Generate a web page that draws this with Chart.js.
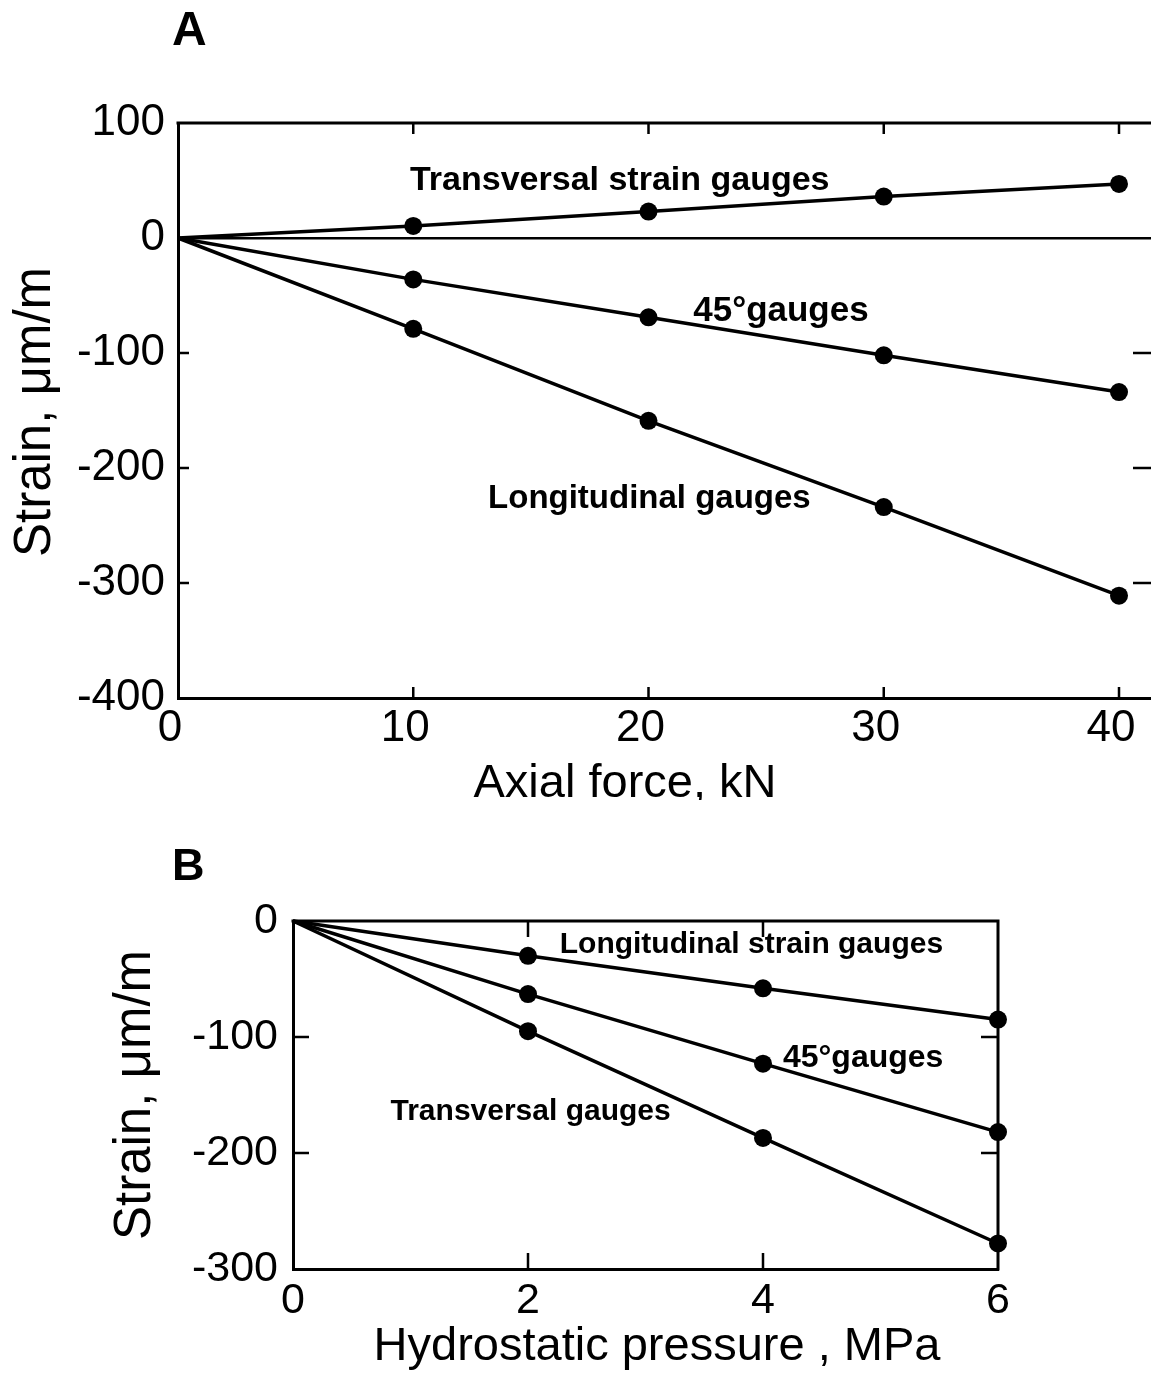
<!DOCTYPE html>
<html>
<head>
<meta charset="utf-8">
<script src="https://cdn.jsdelivr.net/npm/chart.js@4.4.1/dist/chart.umd.min.js"></script>
<style>
  html, body { margin: 0; padding: 0; background: #fff; overflow: hidden; }
  #wrap { position: relative; width: 1151px; height: 1375px; }
  canvas { position: absolute; left: 0; }
</style>
</head>
<body>
<div id="wrap">
  <canvas id="chartA" width="1151" height="800" style="top:0;width:1151px;height:800px"></canvas>
  <canvas id="chartB" width="1151" height="575" style="top:800px;width:1151px;height:575px"></canvas>
</div>
<script>
// ---------- Data: panel A (axial force) ----------
const forceKN = [0, 10, 20, 30, 40];
const transversalA = [0, 10.5, 23, 36, 47];
const deg45A = [0, -36, -69, -102, -134];
const longitudinalA = [0, -79, -159, -234, -311];
const xTicksA = [0, 10, 20, 30, 40];
const yTicksA = [100, 0, -100, -200, -300, -400];

// ---------- Data: panel B (hydrostatic pressure) ----------
const pressureMPa = [0, 2, 4, 6];
const longitudinalB = [0, -30, -58, -85];
const deg45B = [0, -63, -123, -182];
const transversalB = [0, -95, -187, -278];
const xTicksB = [0, 2, 4, 6];
const yTicksB = [0, -100, -200, -300];

const FONT = '"Liberation Sans", Arial, sans-serif';

function pts(xs, ys) { return xs.map((x, i) => ({ x: x, y: ys[i] })); }

function lineDs(label, data) {
  return {
    label: label,
    data: data,
    borderColor: '#000',
    backgroundColor: '#000',
    borderWidth: 3.5,
    pointRadius: c => (c.raw && c.raw.x === 0 ? 0 : 9),
    pointHoverRadius: c => (c.raw && c.raw.x === 0 ? 0 : 9),
    pointBackgroundColor: '#000',
    pointBorderColor: '#000',
    pointBorderWidth: 0,
    tension: 0,
    clip: false
  };
}

// plugin: frame, inward tick marks, panel letter, in-plot labels, axis titles
const decor = {
  id: 'decor',
  afterDraw(chart, args, o) {
    const ctx = chart.ctx;
    const a = chart.chartArea;
    const xs = chart.scales.x, ys = chart.scales.y;
    ctx.save();
    ctx.strokeStyle = '#000';
    ctx.fillStyle = '#000';
    // frame (top, and right if requested)
    ctx.lineWidth = 3;
    ctx.beginPath();
    ctx.moveTo(a.left - 1.5, a.top);
    ctx.lineTo(a.right + (o.rightFrame ? 1.5 : 0), a.top);
    if (o.rightFrame) { ctx.moveTo(a.right, a.top); ctx.lineTo(a.right, a.bottom + 1.5); }
    ctx.stroke();
    // inward ticks
    ctx.lineWidth = 2.5;
    const xt = o.xTicks.filter(v => v > xs.min && v < xs.max);
    const yt = o.yTicks.filter(v => v > ys.min && v < ys.max && v !== 0);
    ctx.beginPath();
    xt.forEach(v => {
      const px = xs.getPixelForValue(v);
      ctx.moveTo(px, a.bottom); ctx.lineTo(px, a.bottom - o.tickLen);
      ctx.moveTo(px, a.top); ctx.lineTo(px, a.top + o.tickLen);
    });
    yt.forEach(v => {
      const py = ys.getPixelForValue(v);
      ctx.moveTo(a.left, py); ctx.lineTo(a.left + o.tickLen, py);
      ctx.moveTo(a.right, py); ctx.lineTo(a.right - o.rightTickLen, py);
    });
    ctx.stroke();
    // panel letter
    ctx.font = 'bold ' + o.letter.size + 'px ' + FONT;
    ctx.textAlign = 'left';
    ctx.textBaseline = 'alphabetic';
    ctx.fillText(o.letter.text, o.letter.x, o.letter.y);
    // in-plot labels (positioned in data units)
    o.labels.forEach(l => {
      ctx.font = 'bold ' + l.size + 'px ' + FONT;
      ctx.textAlign = 'left';
      ctx.textBaseline = 'middle';
      ctx.fillText(l.text, xs.getPixelForValue(l.x), ys.getPixelForValue(l.y));
    });
    // axis titles
    ctx.font = o.xTitle.size + 'px ' + FONT;
    ctx.textAlign = 'center';
    ctx.textBaseline = 'alphabetic';
    ctx.fillText(o.xTitle.text, o.xTitle.x, o.xTitle.y);
    ctx.save();
    ctx.translate(o.yTitle.x, o.yTitle.y);
    ctx.rotate(-Math.PI / 2);
    ctx.font = o.yTitle.size + 'px ' + FONT;
    ctx.textAlign = 'center';
    ctx.textBaseline = 'alphabetic';
    ctx.fillText(o.yTitle.text, 0, 0);
    ctx.restore();
    ctx.restore();
  }
};

function makeChart(id, cfg) {
  return new Chart(document.getElementById(id), {
    type: 'line',
    data: { datasets: cfg.datasets },
    plugins: [decor],
    options: {
      responsive: false,
      animation: false,
      devicePixelRatio: 1,
      layout: { padding: cfg.padding, autoPadding: false },
      plugins: { legend: { display: false }, tooltip: { enabled: false }, decor: cfg.decor },
      scales: {
        x: {
          type: 'linear',
          min: cfg.xMin, max: cfg.xMax,
          afterFit: s => { s.height = cfg.xAxisH; s.paddingLeft = 0; s.paddingRight = 0; },
          afterBuildTicks: s => { s.ticks = cfg.xTicks.map(v => ({ value: v })); },
          ticks: {
            font: { family: FONT, size: cfg.tickFont },
            color: '#000',
            padding: cfg.xPad,
            labelOffset: cfg.xLabelOffset,
            maxRotation: 0,
            autoSkip: false
          },
          grid: { display: false, drawTicks: false },
          border: { display: true, color: '#000', width: 3 }
        },
        y: {
          type: 'linear',
          min: cfg.yMin, max: cfg.yMax,
          afterFit: s => { s.width = cfg.yAxisW; s.paddingTop = 0; s.paddingBottom = 0; },
          afterBuildTicks: s => { s.ticks = cfg.yTicks.map(v => ({ value: v })); },
          ticks: {
            font: { family: FONT, size: cfg.tickFont },
            color: '#000',
            padding: cfg.yPad,
            autoSkip: false
          },
          grid: {
            display: cfg.zeroLine,
            drawTicks: false,
            color: c => (c.tick && c.tick.value === 0 ? '#000' : 'rgba(0,0,0,0)'),
            lineWidth: 2.5
          },
          border: { display: true, color: '#000', width: 3 }
        }
      }
    }
  });
}

// Panel A
makeChart('chartA', {
  datasets: [
    lineDs('Transversal strain gauges', pts(forceKN, transversalA)),
    lineDs('45° gauges', pts(forceKN, deg45A)),
    lineDs('Longitudinal gauges', pts(forceKN, longitudinalA))
  ],
  padding: { top: 123, right: 0, left: 0, bottom: 0 },
  xMin: 0, xMax: 41.36, yMin: -400, yMax: 100,
  xTicks: xTicksA, yTicks: yTicksA,
  xAxisH: 102, yAxisW: 178,
  tickFont: 44, xPad: 4, yPad: 13, xLabelOffset: -8,
  zeroLine: true,
  decor: {
    rightFrame: false, tickLen: 11, rightTickLen: 18,
    xTicks: xTicksA, yTicks: yTicksA,
    letter: { text: 'A', size: 48, x: 172, y: 45 },
    labels: [
      { text: 'Transversal strain gauges', x: 9.86, y: 49.5, size: 34 },
      { text: '45°gauges', x: 21.9, y: -63.5, size: 35 },
      { text: 'Longitudinal gauges', x: 13.18, y: -226.5, size: 33 }
    ],
    xTitle: { text: 'Axial force, kN', size: 47, x: 625, y: 797 },
    yTitle: { text: 'Strain, μm/m', size: 51, x: 50, y: 412 }
  }
});

// Panel B
makeChart('chartB', {
  datasets: [
    lineDs('Longitudinal strain gauges', pts(pressureMPa, longitudinalB)),
    lineDs('45° gauges', pts(pressureMPa, deg45B)),
    lineDs('Transversal gauges', pts(pressureMPa, transversalB))
  ],
  padding: { top: 121, right: 153, left: 0, bottom: 0 },
  xMin: 0, xMax: 6, yMin: -300, yMax: 0,
  xTicks: xTicksB, yTicks: yTicksB,
  xAxisH: 106, yAxisW: 293,
  tickFont: 43, xPad: 6, yPad: 15, xLabelOffset: 0,
  zeroLine: false,
  decor: {
    rightFrame: true, tickLen: 16, rightTickLen: 17,
    xTicks: xTicksB, yTicks: yTicksB,
    letter: { text: 'B', size: 45, x: 172, y: 80 },
    labels: [
      { text: 'Longitudinal strain gauges', x: 2.27, y: -20.7, size: 30 },
      { text: '45°gauges', x: 4.17, y: -118, size: 32 },
      { text: 'Transversal gauges', x: 0.83, y: -164.7, size: 30 }
    ],
    xTitle: { text: 'Hydrostatic pressure , MPa', size: 47, x: 657, y: 560 },
    yTitle: { text: 'Strain, μm/m', size: 51, x: 150, y: 295 }
  }
});
</script>
</body>
</html>
